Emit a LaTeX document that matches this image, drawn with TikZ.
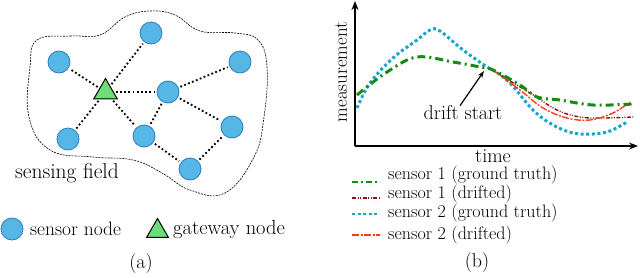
\documentclass[tikz,border=0pt]{standalone}
\usepackage{fontspec}
\usetikzlibrary{shapes.geometric,arrows.meta}
\definecolor{sblue}{RGB}{86,182,230}
\definecolor{sblueD}{RGB}{45,125,185}
\definecolor{tgreen}{RGB}{110,220,120}
\definecolor{cgreen}{RGB}{20,140,20}
\definecolor{ccyan}{RGB}{25,165,200}
\definecolor{cdred}{RGB}{140,20,20}
\definecolor{cored}{RGB}{255,60,20}
\begin{document}
\begin{tikzpicture}[x=1pt,y=-1pt,
 sensor/.style={circle,fill=sblue,draw=sblueD,line width=0.8pt,minimum size=22pt,inner sep=0pt},
 gateway/.style={regular polygon,regular polygon sides=3,fill=tgreen,draw=black,line width=1pt,minimum size=27pt,inner sep=0pt},
 link/.style={line width=1.8pt,dash pattern=on 1.8pt off 2.4pt,shorten >=2pt,shorten <=2pt},
 lbl/.style={font=\fontsize{20}{24}\selectfont,inner sep=0pt},
 leg/.style={font=\fontsize{20}{24}\selectfont,inner sep=0pt,anchor=west},
 axis/.style={line width=1.5pt,-{Stealth[length=9pt,width=7pt]}},
 gt1/.style={cgreen,line width=3pt,dash pattern=on 8pt off 4pt on 2pt off 4pt},
 dr1/.style={cdred,line width=1.4pt,dash pattern=on 4pt off 1.5pt on 1pt off 1.5pt on 1pt off 1.5pt},
 gt2/.style={ccyan,line width=3pt,dash pattern=on 3pt off 2.6pt},
 dr2/.style={cored,line width=1.4pt,dash pattern=on 7pt off 1.5pt on 2pt off 1.5pt}]
\useasboundingbox (0,0) rectangle (640,277);

% ---------- panel (a) ----------
\draw[line width=0.6pt,dash pattern=on 2pt off 1pt]
 plot[smooth cycle,tension=0.7] coordinates {(37,40) (70,36) (100,35) (125,17) (150,11) (175,15) (200,31) (235,33) (258,40) (267,67) (264,117) (254,157) (225,193) (190,190) (162,173) (133,160) (93,157) (50,150) (29,117) (30,67)};

\node[gateway] (g) at (105.5,92) {};
\node[sensor] (s1) at (151,33) {};
\node[sensor] (s2) at (59,62) {};
\node[sensor] (s3) at (240,62) {};
\node[sensor] (s4) at (168,92) {};
\node[sensor] (s5) at (68,139) {};
\node[sensor] (s6) at (144,136) {};
\node[sensor] (s7) at (232,127) {};
\node[sensor] (s8) at (190,169) {};

\draw[link] (g) -- (s1);
\draw[link] (g) -- (s2);
\draw[link] (g) -- (s4);
\draw[link] (g) -- (s5);
\draw[link] (g) -- (s6);
\draw[link] (s4) -- (s3);
\draw[link] (s4) -- (s6);
\draw[link] (s4) -- (s7);
\draw[link] (s6) -- (s8);
\draw[link] (s8) -- (s7);

\node[lbl,font=\fontsize{21.5}{24}\selectfont] (sf) at (67,173) {sensing field};

\node[sensor] (ls) at (12,229) {};
\node[leg,font=\fontsize{19.5}{24}\selectfont] (lst) at (30,229) {sensor node};
\node[gateway,minimum size=25pt] (lg) at (157.5,231) {};
\node[leg,font=\fontsize{20.5}{24}\selectfont] (lgt) at (173,229) {gateway node};
\node[lbl] (ca) at (141,264) {(a)};

% ---------- panel (b) ----------
\coordinate (o) at (355,146);
\coordinate (ytop) at (355,1);
\coordinate (xend) at (638,146);
\draw[axis] (o) -- (ytop);
\draw[axis] (o) -- (xend);
\node[lbl,rotate=90,font=\fontsize{19}{24}\selectfont] (ml) at (341,72) {measurement};
\node[lbl] (tl) at (493,156) {time};

\draw[gt2] plot[smooth,tension=0.6] coordinates {(357,108) (370,83) (393,58) (417,40) (430,30) (440,31) (463,50) (487,67) (493,70) (510,83) (533,110) (553,125) (573,133) (593,134) (610,131) (627,122)};
\draw[dr1] plot[smooth,tension=0.6] coordinates {(493,70) (497,73) (530,93) (557,110) (580,117) (603,118) (633,117)};
\draw[dr2] plot[smooth,tension=0.6] coordinates {(493,70) (500,75) (520,90) (543,108) (567,118) (590,120) (613,113) (630,102)};
\draw[gt1] plot[smooth,tension=0.6] coordinates {(357,95) (387,72) (417,57) (453,62) (480,67) (493,70) (520,85) (537,97) (560,100) (593,105) (633,104)};

\node[lbl] (ds) at (463,113) {drift start};
\coordinate (dp) at (484,71);
\draw[line width=1.2pt,-{Stealth[length=7pt,width=5pt]}] (ds.north) ++(-3,0) -- (dp);

\coordinate (l1a) at (352,182); \coordinate (l1b) at (380,182);
\coordinate (l2a) at (352,198); \coordinate (l2b) at (380,198);
\coordinate (l3a) at (352,214); \coordinate (l3b) at (380,214);
\coordinate (l4a) at (352,235); \coordinate (l4b) at (380,235);
\draw[gt1,line width=2pt,dash pattern=on 6pt off 3pt on 2pt off 3pt] (l1a) -- (l1b);
\draw[dr1] (l2a) -- (l2b);
\draw[gt2,line width=2.5pt] (l3a) -- (l3b);
\draw[dr2] (l4a) -- (l4b);
\node[inner sep=0pt,anchor=base west,align=left,font=\fontsize{18}{16.5}\selectfont] (legtext) at (388,239.5)
 {sensor 1 (ground truth)\\sensor 1 (drifted)\\sensor 2 (ground truth)\\[3.5pt]sensor 2 (drifted)};
\node[lbl] (cb) at (477,263) {(b)};
\end{tikzpicture}
\end{document}
